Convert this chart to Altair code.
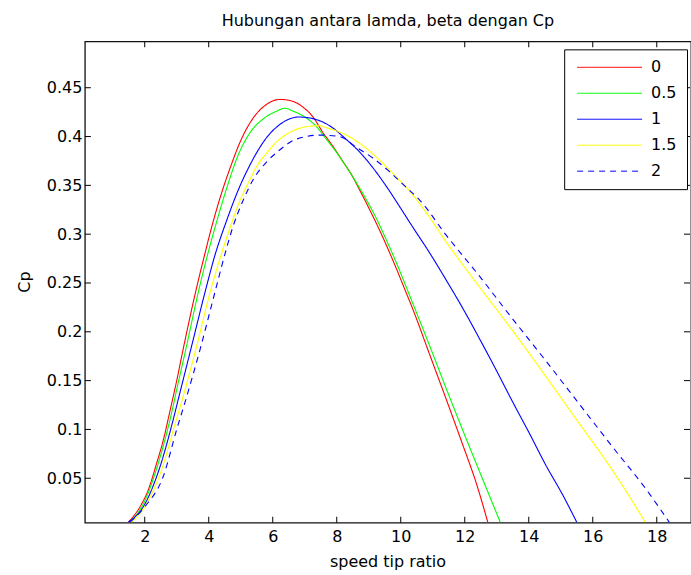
import altair as alt
import pandas as pd

# ---- data ----
beta_labels = ["0", "0.5", "1", "1.5", "2"]

x_b0 = [1.49, 1.91, 2.11, 2.37, 2.58, 2.79, 3.00, 3.20, 3.57, 3.88, 4.09, 4.40, 4.66, 5.03, 5.39,
        5.81, 6.22, 6.53, 6.95, 7.26, 7.57, 7.88, 8.20, 8.46, 8.72, 9.03, 9.34, 9.60, 9.86, 10.12,
        10.38, 10.90, 11.42, 11.94, 12.36, 12.72]
y_b0 = [0.005, 0.024, 0.038, 0.065, 0.089, 0.119, 0.150, 0.182, 0.238, 0.280, 0.307, 0.342, 0.367,
        0.398, 0.419, 0.433, 0.438, 0.437, 0.430, 0.420, 0.404, 0.390, 0.374, 0.361, 0.345, 0.325,
        0.304, 0.285, 0.265, 0.244, 0.223, 0.177, 0.131, 0.084, 0.045, 0.005]

x_b05 = [1.54, 1.96, 2.42, 2.84, 2.98, 3.31, 3.67, 3.98, 4.25, 4.56, 4.92, 5.29, 5.70, 6.12, 6.38,
         6.64, 7.05, 7.37, 7.68, 7.99, 8.30, 8.61, 8.93, 9.24, 9.55, 9.86, 10.28, 10.90, 11.42,
         11.94, 12.46, 13.11]
y_b05 = [0.005, 0.024, 0.065, 0.117, 0.138, 0.186, 0.240, 0.281, 0.313, 0.347, 0.381, 0.404, 0.418,
         0.426, 0.429, 0.426, 0.419, 0.410, 0.397, 0.384, 0.369, 0.353, 0.335, 0.316, 0.294, 0.271,
         0.237, 0.186, 0.142, 0.099, 0.057, 0.005]

x_b1 = [1.49, 1.96, 2.48, 2.89, 3.08, 3.47, 3.88, 4.19, 4.56, 4.92, 5.29, 5.49, 5.81, 6.17, 6.45,
        6.80, 7.16, 7.78, 8.30, 8.72, 9.13, 9.55, 9.97, 10.38, 10.90, 11.42, 11.94, 12.46, 12.98,
        13.50, 14.02, 14.54, 15.06, 15.50]
y_b1 = [0.005, 0.021, 0.062, 0.110, 0.135, 0.186, 0.240, 0.278, 0.314, 0.345, 0.371, 0.383, 0.399,
        0.411, 0.417, 0.420, 0.419, 0.411, 0.397, 0.384, 0.368, 0.349, 0.328, 0.307, 0.281, 0.253,
        0.224, 0.193, 0.161, 0.128, 0.096, 0.063, 0.033, 0.005]

x_b15 = [1.59, 2.06, 2.53, 2.95, 3.15, 3.62, 4.04, 4.35, 4.66, 4.97, 5.29, 5.49, 5.81, 6.17, 6.64,
         7.16, 7.47, 7.68, 8.20, 8.72, 9.24, 9.76, 10.28, 10.80, 11.42, 12.46, 13.50, 14.54, 15.58,
         16.62, 17.64]
y_b15 = [0.005, 0.024, 0.059, 0.106, 0.128, 0.185, 0.240, 0.275, 0.306, 0.334, 0.356, 0.369, 0.383,
         0.396, 0.406, 0.4105, 0.411, 0.409, 0.403, 0.393, 0.379, 0.362, 0.344, 0.322, 0.292, 0.246,
         0.201, 0.154, 0.106, 0.058, 0.005]

x_b2 = [1.54, 2.01, 2.58, 3.00, 3.26, 3.73, 4.19, 4.51, 4.76, 5.08, 5.39, 5.81, 6.17, 6.64, 7.05,
        7.47, 8.09, 8.61, 9.13, 9.65, 10.17, 10.59, 11.42, 12.46, 13.50, 14.54, 15.58, 16.62, 17.66,
        18.39]
y_b2 = [0.005, 0.021, 0.052, 0.100, 0.128, 0.182, 0.240, 0.280, 0.308, 0.335, 0.356, 0.374, 0.385,
        0.396, 0.400, 0.4015, 0.400, 0.389, 0.378, 0.364, 0.348, 0.335, 0.299, 0.257, 0.213, 0.170,
        0.126, 0.082, 0.039, 0.005]

x_ticks = [2, 4, 6, 8, 10, 12, 14, 16, 18]
y_ticks = [0.05, 0.1, 0.15, 0.2, 0.25, 0.3, 0.35, 0.4, 0.45]
y_title = ["Cp"]

series_colors = ["#ff0000", "#00ff00", "#0000ff", "#ffff00", "#0000ff"]
series_dashes = [[1, 0], [1, 0], [1, 0], [1, 0], [6, 5]]

# ---- build table ----
rows = []
for lab, xs, ys in zip(beta_labels,
                       [x_b0, x_b05, x_b1, x_b15, x_b2],
                       [y_b0, y_b05, y_b1, y_b15, y_b2]):
    for xv, yv in zip(xs, ys):
        rows.append({"beta": lab, "lamda": xv, "cp": yv})
df = pd.DataFrame(rows)

W, H = 607, 482
FONT = "DejaVu Sans"

xscale = alt.Scale(domain=[0.13, 19.07], nice=False, zero=False)
yscale = alt.Scale(domain=[0.0045, 0.4975], nice=False, zero=False)

x_axis = alt.Axis(values=x_ticks, title="speed tip ratio", grid=False, ticks=False,
                  tickSize=0, domain=False, labelPadding=6,
                  titleX=303, titleY=31, titleBaseline="top", titleAlign="center")
y_axis = alt.Axis(values=y_ticks, format="~g", title=None, grid=False, ticks=False,
                  tickSize=0, domain=False, labelPadding=3)

leg = alt.Legend(
    title=None, orient="none", legendX=480, legendY=8,
    strokeColor="black", fillColor="white", padding=10,
    symbolType="M-1,0H12", symbolSize=100, symbolStrokeWidth=1,
    labelFont=FONT, labelFontSize=16, labelColor="black",
    labelOffset=61, rowPadding=10,
)

lines = alt.Chart(df).mark_line(strokeWidth=1.1, interpolate="monotone", clip=True).encode(
    x=alt.X("lamda:Q", scale=xscale, axis=x_axis),
    y=alt.Y("cp:Q", scale=yscale, axis=y_axis),
    color=alt.Color("beta:N", scale=alt.Scale(domain=beta_labels, range=series_colors), legend=leg),
    strokeDash=alt.StrokeDash("beta:N", scale=alt.Scale(domain=beta_labels, range=series_dashes),
                              legend=leg),
)

xt = pd.DataFrame({"lamda": x_ticks})
yt = pd.DataFrame({"cp": y_ticks})

tick_style = dict(thickness=1, size=6, color="black", opacity=1)
bottom_ticks = alt.Chart(xt).mark_tick(orient="vertical", **tick_style).encode(
    x=alt.X("lamda:Q", scale=xscale, axis=x_axis), y=alt.value(H - 3))
top_ticks = alt.Chart(xt).mark_tick(orient="vertical", **tick_style).encode(
    x=alt.X("lamda:Q", scale=xscale, axis=x_axis), y=alt.value(3))
left_ticks = alt.Chart(yt).mark_tick(orient="horizontal", **tick_style).encode(
    y=alt.Y("cp:Q", scale=yscale, axis=y_axis), x=alt.value(3))
right_ticks = alt.Chart(yt).mark_tick(orient="horizontal", **tick_style).encode(
    y=alt.Y("cp:Q", scale=yscale, axis=y_axis), x=alt.value(W - 4))

# rotated y-axis title (reads bottom to top)
ytitle = alt.Chart(pd.DataFrame({"t": y_title})).mark_text(
    angle=270, font=FONT, fontSize=16, color="black", align="center", baseline="middle"
).encode(text="t:N", x=alt.value(-60), y=alt.value(H / 2))

chart = alt.layer(lines, bottom_ticks, top_ticks, left_ticks, right_ticks, ytitle).properties(
    width=W, height=H,
    title=alt.Title("Hubungan antara lamda, beta dengan Cp", font=FONT, fontSize=16,
                    fontWeight="normal", color="black", anchor="middle",
                    baseline="alphabetic", offset=-1),
    padding={"left": 85, "top": 41, "right": 0, "bottom": 52},
    autosize=alt.AutoSizeParams(type="none"),
    background="white",
).configure_view(
    stroke="#111111", strokeWidth=1.3
).configure_axis(
    labelFont=FONT, labelFontSize=16, labelColor="black",
    titleFont=FONT, titleFontSize=16, titleFontWeight="normal", titleColor="black",
)

chart.save("out.html", embed_options={"renderer": "svg", "actions": False})
